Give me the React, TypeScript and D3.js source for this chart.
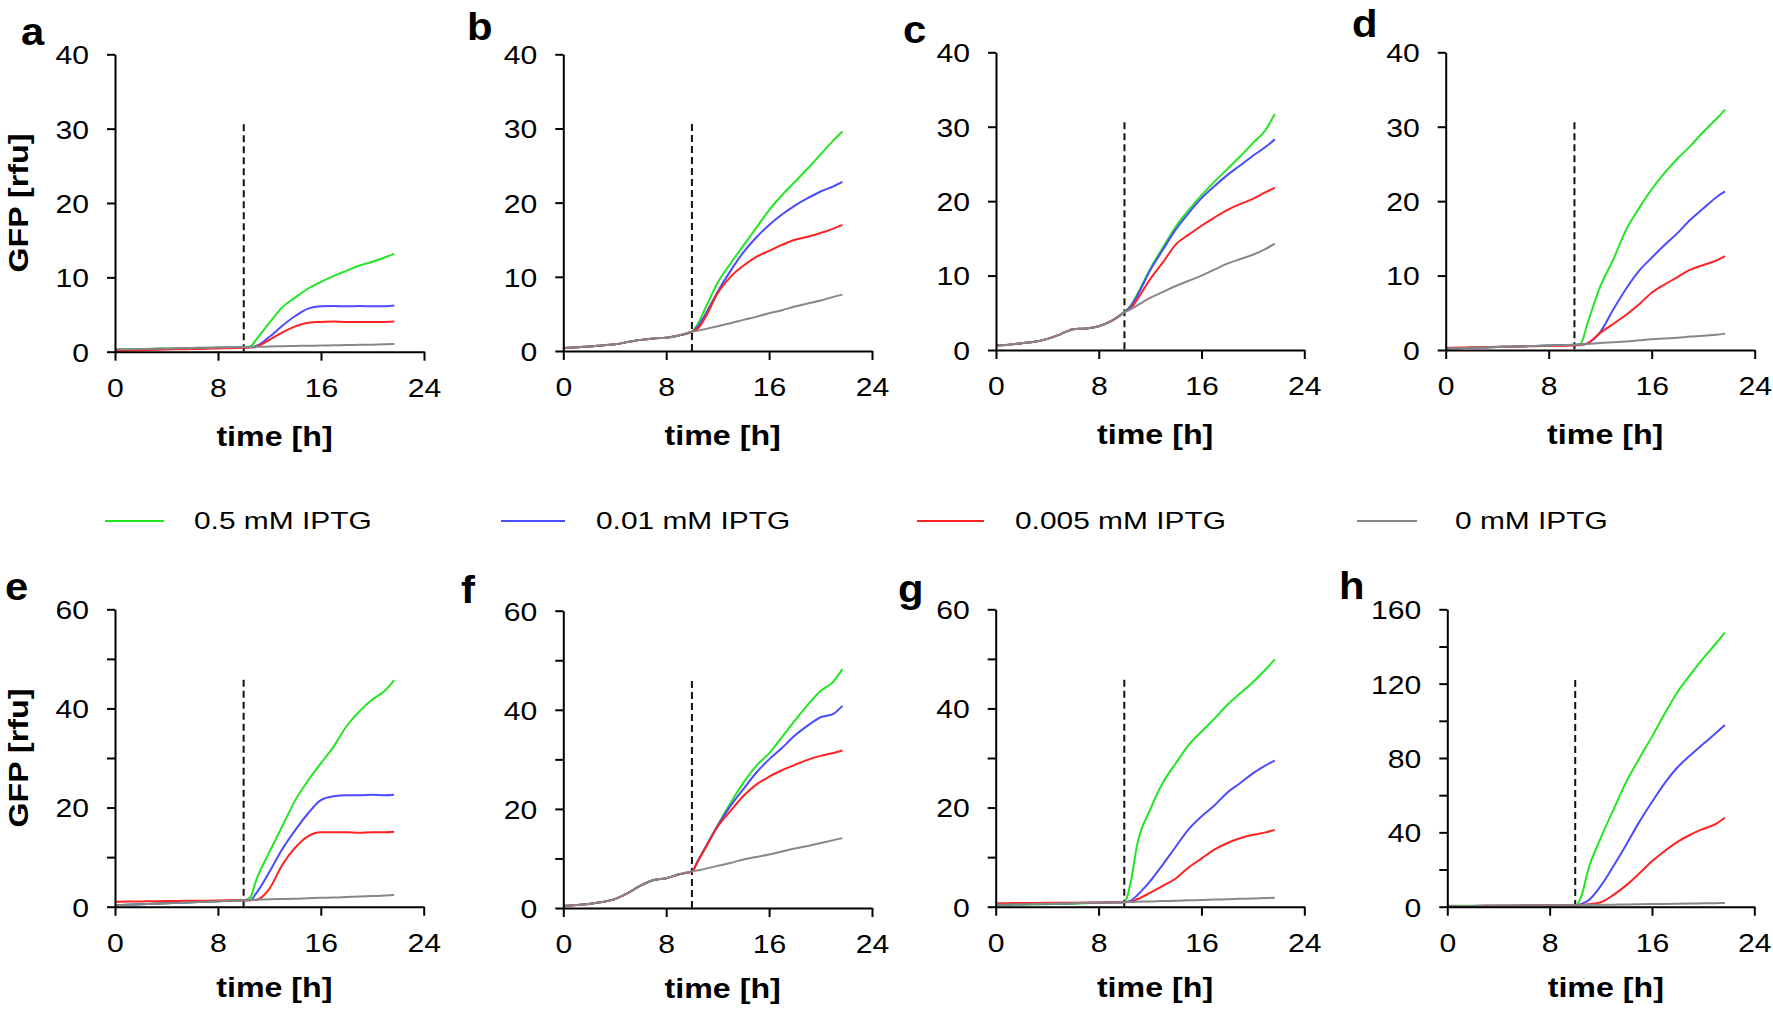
import React, { useEffect, useRef } from 'react';
import * as d3 from 'd3';

// ---------- shared axes / categories ----------
const TIME = [0, 1, 2, 3, 4, 5, 6, 7, 8, 9, 10, 10.5, 11, 12, 13, 14, 15, 16, 17, 18, 19, 20, 21, 21.7];
const X_TICKS = [0, 8, 16, 24];
const INDUCTION_TIME = 10;
const SERIES_NAMES = ['0.5 mM IPTG', '0.01 mM IPTG', '0.005 mM IPTG', '0 mM IPTG'];
const SERIES_COLORS = ['#22e622', '#4b4bff', '#ff2222', '#878787'];
const PANEL_LETTERS = ['a', 'b', 'c', 'd', 'e', 'f', 'g', 'h'];

const Y_MAJOR_TOP = [0, 10, 20, 30, 40];
const Y_MINOR_TOP: number[] = [];
const Y_MAJOR_60 = [0, 20, 40, 60];
const Y_MINOR_60 = [10, 30, 50];
const Y_MAJOR_160 = [0, 40, 80, 120, 160];
const Y_MINOR_160 = [20, 60, 100, 140];
const Y_MAX = [40, 40, 40, 40, 60, 60, 60, 160];
const DASH_TOP = [30.6, 30.6, 30.6, 30.6, 45.8, 45.8, 45.8, 122];

// ---------- panel a ----------
const A_GREEN = [0.3, 0.33, 0.36, 0.4, 0.43, 0.46, 0.5, 0.53, 0.56, 0.6, 0.62, 0.7, 1.7, 3.9, 6.0, 7.3, 8.5, 9.4, 10.2, 10.9, 11.6, 12.1, 12.7, 13.2];
const A_BLUE = [0.2, 0.24, 0.28, 0.32, 0.36, 0.4, 0.44, 0.48, 0.52, 0.55, 0.58, 0.6, 0.8, 2.0, 3.5, 4.8, 5.8, 6.1, 6.15, 6.1, 6.15, 6.1, 6.1, 6.2];
const A_RED = [0.1, 0.15, 0.2, 0.25, 0.3, 0.33, 0.36, 0.4, 0.44, 0.48, 0.52, 0.55, 0.7, 1.6, 2.6, 3.4, 3.9, 4.0, 4.05, 4.0, 4.0, 4.0, 4.0, 4.05];
const A_GRAY = [0.3, 0.33, 0.36, 0.4, 0.43, 0.46, 0.5, 0.53, 0.56, 0.6, 0.62, 0.64, 0.66, 0.7, 0.74, 0.77, 0.8, 0.83, 0.86, 0.89, 0.92, 0.95, 0.99, 1.03];

// ---------- panel b ----------
const B_GREEN = [0.4, 0.5, 0.6, 0.75, 0.9, 1.2, 1.5, 1.7, 1.8, 2.1, 2.6, 3.8, 5.6, 9.2, 11.8, 14.2, 16.6, 19.0, 21.0, 22.8, 24.6, 26.5, 28.4, 29.6];
const B_BLUE = [0.4, 0.5, 0.6, 0.75, 0.9, 1.2, 1.5, 1.7, 1.8, 2.1, 2.6, 3.4, 4.8, 8.0, 10.8, 13.3, 15.3, 17.0, 18.4, 19.6, 20.6, 21.5, 22.2, 22.8];
const B_RED = [0.4, 0.5, 0.6, 0.75, 0.9, 1.2, 1.5, 1.7, 1.8, 2.1, 2.6, 3.1, 4.4, 7.8, 10.0, 11.5, 12.7, 13.5, 14.3, 15.0, 15.4, 15.9, 16.5, 17.0];
const B_GRAY = [0.4, 0.5, 0.6, 0.75, 0.9, 1.2, 1.5, 1.7, 1.8, 2.1, 2.6, 2.75, 2.95, 3.35, 3.75, 4.2, 4.6, 5.1, 5.5, 6.0, 6.4, 6.8, 7.3, 7.6];

// ---------- panel c ----------
const C_GREEN = [0.6, 0.7, 0.9, 1.1, 1.5, 2.1, 2.8, 2.9, 3.2, 3.9, 5.1, 6.0, 7.5, 10.9, 13.8, 16.6, 18.8, 20.8, 22.6, 24.3, 26.0, 27.8, 29.6, 31.7];
const C_BLUE = [0.6, 0.7, 0.9, 1.1, 1.5, 2.1, 2.8, 2.9, 3.2, 3.9, 5.1, 5.9, 7.3, 10.7, 13.5, 16.2, 18.4, 20.4, 22.0, 23.5, 24.8, 26.1, 27.3, 28.3];
const C_RED = [0.6, 0.7, 0.9, 1.1, 1.5, 2.1, 2.8, 2.9, 3.2, 3.9, 5.1, 5.6, 6.8, 9.5, 11.8, 14.2, 15.5, 16.7, 17.8, 18.8, 19.6, 20.3, 21.2, 21.8];
const C_GRAY = [0.6, 0.7, 0.9, 1.1, 1.5, 2.1, 2.8, 2.9, 3.2, 3.9, 5.1, 5.5, 6.0, 7.0, 7.8, 8.6, 9.3, 10.0, 10.8, 11.6, 12.2, 12.8, 13.6, 14.3];

// ---------- panel d ----------
const D_GREEN = [0.2, 0.25, 0.3, 0.35, 0.4, 0.45, 0.5, 0.55, 0.6, 0.65, 0.7, 0.9, 3.5, 8.5, 12.1, 16.1, 19.0, 21.6, 23.8, 25.7, 27.4, 29.3, 31.0, 32.3];
const D_BLUE = [0.2, 0.25, 0.3, 0.35, 0.4, 0.45, 0.5, 0.55, 0.6, 0.65, 0.7, 0.7, 0.9, 2.4, 5.4, 8.2, 10.6, 12.4, 14.1, 15.7, 17.5, 19.0, 20.5, 21.3];
const D_RED = [0.3, 0.33, 0.36, 0.39, 0.42, 0.45, 0.48, 0.51, 0.54, 0.57, 0.6, 0.7, 0.9, 2.3, 3.5, 4.7, 6.1, 7.7, 8.8, 9.8, 10.8, 11.4, 12.0, 12.6];
const D_GRAY = [0.2, 0.25, 0.3, 0.35, 0.4, 0.45, 0.5, 0.55, 0.6, 0.65, 0.7, 0.75, 0.8, 0.95, 1.05, 1.15, 1.3, 1.45, 1.55, 1.65, 1.8, 1.9, 2.05, 2.2];

// ---------- panel e ----------
const E_GREEN = [0.3, 0.4, 0.5, 0.6, 0.7, 0.8, 0.9, 1.0, 1.1, 1.2, 1.3, 1.8, 5.5, 11.0, 16.2, 21.4, 25.4, 28.9, 32.3, 36.4, 39.4, 41.8, 43.6, 45.7];
const E_BLUE = [0.3, 0.4, 0.5, 0.6, 0.7, 0.8, 0.9, 1.0, 1.1, 1.2, 1.3, 1.3, 2.8, 7.0, 11.6, 15.4, 18.8, 21.5, 22.3, 22.5, 22.5, 22.6, 22.5, 22.6];
const E_RED = [1.0, 1.03, 1.06, 1.1, 1.13, 1.16, 1.2, 1.22, 1.25, 1.28, 1.3, 1.3, 1.4, 3.6, 8.4, 11.9, 14.2, 15.0, 15.0, 15.0, 14.9, 15.0, 15.0, 15.1];
const E_GRAY = [0.3, 0.4, 0.5, 0.6, 0.7, 0.8, 0.9, 1.0, 1.1, 1.2, 1.3, 1.35, 1.4, 1.5, 1.55, 1.6, 1.7, 1.8, 1.85, 1.95, 2.05, 2.15, 2.25, 2.35];

// ---------- panel f ----------
const F_GREEN = [0.4, 0.6, 0.8, 1.2, 1.8, 3.0, 4.5, 5.6, 6.0, 6.8, 7.4, 9.7, 12.0, 16.7, 21.2, 25.3, 28.7, 31.2, 34.5, 37.8, 41.0, 43.8, 45.7, 48.2];
const F_BLUE = [0.4, 0.6, 0.8, 1.2, 1.8, 3.0, 4.5, 5.6, 6.0, 6.8, 7.4, 9.7, 12.0, 16.6, 20.6, 24.0, 27.3, 30.0, 32.3, 34.8, 36.8, 38.5, 39.2, 40.8];
const F_RED = [0.4, 0.6, 0.8, 1.2, 1.8, 3.0, 4.5, 5.6, 6.0, 6.8, 7.4, 9.6, 11.9, 16.4, 19.6, 22.6, 24.9, 26.5, 27.8, 28.9, 29.9, 30.7, 31.3, 31.8];
const F_GRAY = [0.4, 0.6, 0.8, 1.2, 1.8, 3.0, 4.5, 5.6, 6.0, 6.8, 7.4, 7.6, 7.9, 8.5, 9.1, 9.8, 10.3, 10.8, 11.4, 12.0, 12.5, 13.1, 13.7, 14.1];

// ---------- panel g ----------
const G_GREEN = [0.3, 0.35, 0.4, 0.45, 0.5, 0.55, 0.6, 0.7, 0.75, 0.85, 0.9, 5.0, 12.5, 19.5, 25.0, 28.9, 32.6, 35.3, 37.9, 40.7, 43.0, 45.3, 47.9, 49.9];
const G_BLUE = [0.4, 0.45, 0.5, 0.55, 0.6, 0.65, 0.7, 0.75, 0.8, 0.85, 0.9, 1.2, 2.3, 5.1, 8.5, 12.1, 15.6, 18.2, 20.4, 23.0, 24.9, 26.9, 28.5, 29.5];
const G_RED = [0.7, 0.72, 0.74, 0.76, 0.78, 0.8, 0.82, 0.84, 0.86, 0.88, 0.9, 1.0, 1.5, 2.8, 4.2, 5.7, 7.9, 9.7, 11.5, 12.8, 13.8, 14.5, 15.0, 15.5];
const G_GRAY = [0.4, 0.45, 0.5, 0.55, 0.6, 0.65, 0.7, 0.75, 0.8, 0.85, 0.9, 0.95, 1.0, 1.05, 1.15, 1.2, 1.3, 1.35, 1.45, 1.5, 1.6, 1.65, 1.75, 1.8];

// ---------- panel h ----------
const H_GREEN = [0.5, 0.5, 0.55, 0.55, 0.6, 0.6, 0.65, 0.7, 0.7, 0.75, 0.8, 6.0, 19.5, 37.0, 52.4, 67.3, 79.6, 91.5, 103.9, 115.5, 124.8, 133.6, 141.6, 147.5];
const H_BLUE = [0.3, 0.35, 0.4, 0.45, 0.5, 0.55, 0.6, 0.65, 0.7, 0.75, 0.8, 1.5, 3.2, 11.2, 22.0, 33.5, 45.5, 56.3, 66.5, 75.0, 81.5, 87.5, 93.5, 97.8];
const H_RED = [0.3, 0.35, 0.4, 0.45, 0.5, 0.55, 0.6, 0.65, 0.7, 0.75, 0.8, 0.9, 1.3, 2.4, 6.4, 11.6, 17.8, 24.4, 30.0, 34.9, 38.7, 41.8, 44.6, 47.9];
const H_GRAY = [0.3, 0.35, 0.4, 0.45, 0.5, 0.55, 0.6, 0.65, 0.7, 0.75, 0.8, 0.85, 0.9, 1.0, 1.1, 1.2, 1.3, 1.4, 1.5, 1.6, 1.7, 1.8, 1.9, 2.0];

const PANEL_DATA = [
  [A_GREEN, A_BLUE, A_RED, A_GRAY],
  [B_GREEN, B_BLUE, B_RED, B_GRAY],
  [C_GREEN, C_BLUE, C_RED, C_GRAY],
  [D_GREEN, D_BLUE, D_RED, D_GRAY],
  [E_GREEN, E_BLUE, E_RED, E_GRAY],
  [F_GREEN, F_BLUE, F_RED, F_GRAY],
  [G_GREEN, G_BLUE, G_RED, G_GRAY],
  [H_GREEN, H_BLUE, H_RED, H_GRAY],
];
const PANEL_Y_MAJOR = [Y_MAJOR_TOP, Y_MAJOR_TOP, Y_MAJOR_TOP, Y_MAJOR_TOP, Y_MAJOR_60, Y_MAJOR_60, Y_MAJOR_60, Y_MAJOR_160];
const PANEL_Y_MINOR = [Y_MINOR_TOP, Y_MINOR_TOP, Y_MINOR_TOP, Y_MINOR_TOP, Y_MINOR_60, Y_MINOR_60, Y_MINOR_60, Y_MINOR_160];

// ---------- layout (pixels) ----------
const W = 1773;
const H = 1012;
const LAYOUT = [
  { x0: 115, x1: 424, yT: 54.3, yB: 351.7, lx: 21, ly: 45, tOff: 94 },
  { x0: 563.3, x1: 872, yT: 54.3, yB: 351, lx: 467, ly: 40, tOff: 94 },
  { x0: 996, x1: 1304.3, yT: 52.3, yB: 350, lx: 903, ly: 43, tOff: 94 },
  { x0: 1445.7, x1: 1754.7, yT: 52.3, yB: 350, lx: 1352, ly: 37, tOff: 94 },
  { x0: 115, x1: 423.7, yT: 609.3, yB: 906.7, lx: 5, ly: 600, tOff: 90 },
  { x0: 563.3, x1: 872, yT: 610.7, yB: 908, lx: 461, ly: 603, tOff: 90 },
  { x0: 995.7, x1: 1304.3, yT: 609.3, yB: 906.7, lx: 898, ly: 602, tOff: 90 },
  { x0: 1447.3, x1: 1754.3, yT: 609.3, yB: 906.7, lx: 1339, ly: 599, tOff: 90 },
];
const LEGEND_LAYOUT = [
  { lx1: 105, lx2: 164, tx: 194 },
  { lx1: 501, lx2: 565, tx: 596 },
  { lx1: 917, lx2: 984, tx: 1015 },
  { lx1: 1357, lx2: 1417, tx: 1455 },
];
const LEGEND_Y = 521;
const FONT = "'Liberation Sans', Arial, Helvetica, sans-serif";
const SX = 1.16;

function Panel({ idx }: { idx: number }) {
  const axRef = useRef<SVGGElement>(null);
  const L = LAYOUT[idx];
  const x = d3.scaleLinear().domain([0, 24]).range([L.x0, L.x1]);
  const y = d3.scaleLinear().domain([0, Y_MAX[idx]]).range([L.yB, L.yT]);
  const major = PANEL_Y_MAJOR[idx];
  const minor = PANEL_Y_MINOR[idx];
  const allY = [...major, ...minor].sort((a, b) => a - b);

  useEffect(() => {
    const g = d3.select(axRef.current);
    g.selectAll('*').remove();
    const yAxis = d3
      .axisLeft(y)
      .tickValues(allY)
      .tickSize(8)
      .tickSizeOuter(0)
      .tickFormat((d: any) => (major.includes(+d) ? String(d) : ''));
    const xAxis = d3.axisBottom(x).tickValues(X_TICKS).tickSize(9).tickSizeOuter(0).tickFormat((d: any) => String(d));

    const gy = g.append('g').attr('transform', `translate(${L.x0},0)`).call(yAxis as any);
    const gx = g.append('g').attr('transform', `translate(0,${L.yB})`).call(xAxis as any);
    [gy, gx].forEach((a) => {
      a.attr('font-family', FONT).attr('font-size', 26).attr('color', '#000');
      a.selectAll('path, line').attr('stroke', '#000').attr('stroke-width', 2);
    });
    gy.selectAll('.tick text')
      .attr('x', 0)
      .attr('dy', '0.36em')
      .attr('text-anchor', 'end')
      .attr('transform', `translate(-26,0) scale(${SX},1)`);
    gx.selectAll('.tick text')
      .attr('y', 0)
      .attr('dy', 0)
      .attr('transform', `translate(0,45) scale(${SX},1)`);
  }, [idx]);

  const line = d3
    .line<number>()
    .x((_, i) => x(TIME[i]))
    .y((v) => y(v))
    .curve(d3.curveMonotoneX);

  const series = PANEL_DATA[idx];
  const cx = (L.x0 + L.x1) / 2 + 5;

  return (
    <g>
      <line
        x1={x(INDUCTION_TIME)}
        x2={x(INDUCTION_TIME)}
        y1={y(DASH_TOP[idx])}
        y2={y(0)}
        stroke="#111"
        strokeWidth={2}
        strokeDasharray="7,4"
      />
      {series.map((vals, si) => (
        <path key={si} d={line(vals) || ''} fill="none" stroke={SERIES_COLORS[si]} strokeWidth={2} />
      ))}
      <g ref={axRef} />
      <text
        transform={`translate(${cx},${L.yB + L.tOff}) scale(1.15,1)`}
        textAnchor="middle"
        fontFamily={FONT}
        fontWeight="bold"
        fontSize={28}
        fill="#000"
      >
        time [h]
      </text>
      {(idx === 0 || idx === 4) && (
        <text
          transform={`translate(${L.x0 - 87},${(L.yT + L.yB) / 2}) rotate(-90) scale(1.15,1)`}
          textAnchor="middle"
          fontFamily={FONT}
          fontWeight="bold"
          fontSize={28}
          fill="#000"
        >
          GFP [rfu]
        </text>
      )}
      <text
        transform={`translate(${L.lx},${L.ly}) scale(1.1,1)`}
        fontFamily={FONT}
        fontWeight="bold"
        fontSize={38}
        fill="#000"
      >
        {PANEL_LETTERS[idx]}
      </text>
    </g>
  );
}

export default function App() {
  return (
    <svg
      width={W}
      height={H}
      viewBox={`0 0 ${W} ${H}`}
      style={{ position: 'absolute', left: 0, top: 0, background: '#fff' }}
    >
      <rect x={0} y={0} width={W} height={H} fill="#fff" />
      {PANEL_LETTERS.map((_, i) => (
        <Panel key={i} idx={i} />
      ))}
      {SERIES_NAMES.map((name, i) => (
        <g key={name}>
          <line
            x1={LEGEND_LAYOUT[i].lx1}
            x2={LEGEND_LAYOUT[i].lx2}
            y1={LEGEND_Y}
            y2={LEGEND_Y}
            stroke={SERIES_COLORS[i]}
            strokeWidth={2}
          />
          <text
            transform={`translate(${LEGEND_LAYOUT[i].tx},${LEGEND_Y + 8}) scale(1.3,1)`}
            fontFamily={FONT}
            fontSize={23}
            fill="#000"
          >
            {name}
          </text>
        </g>
      ))}
    </svg>
  );
}
